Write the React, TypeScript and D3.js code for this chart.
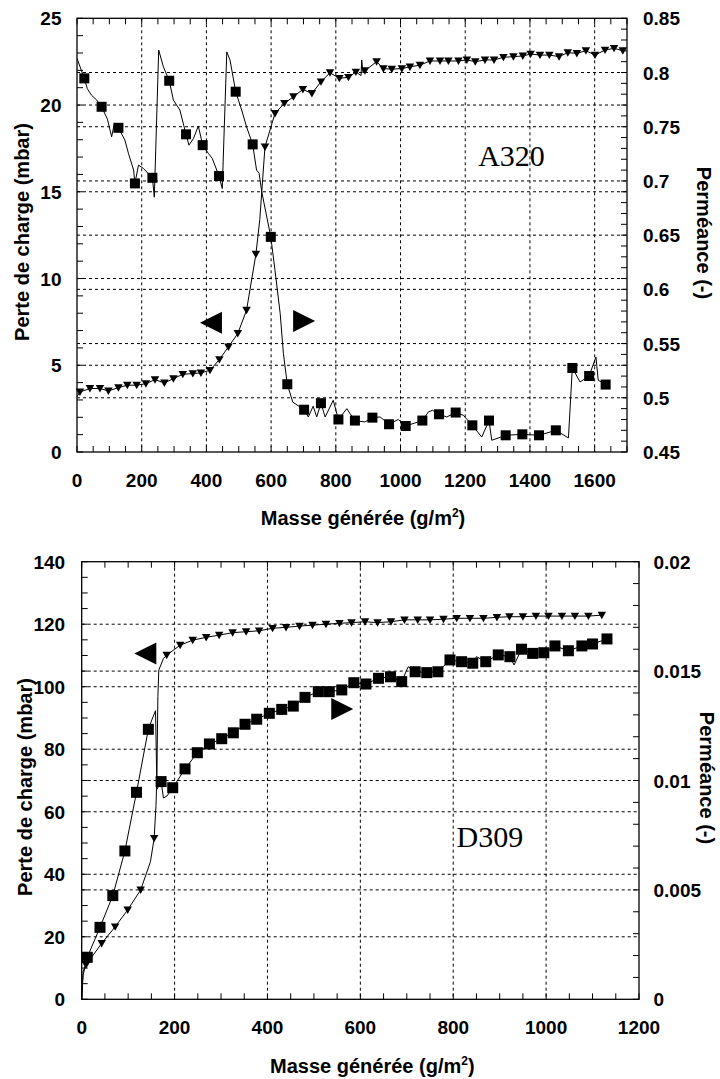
import React from "react";
import * as d3 from "d3";

type P = [number, number];

// ================= Panel 1 : A320 =================
const A320_X_TICKS = [0, 200, 400, 600, 800, 1000, 1200, 1400, 1600];
const A320_LEFT_TICKS = [0, 5, 10, 15, 20, 25];
const A320_RIGHT_TICKS = [0.45, 0.5, 0.55, 0.6, 0.65, 0.7, 0.75, 0.8, 0.85];

// Perte de charge (mbar) — triangles, left axis
const A320_PRESSURE_MARKERS: P[] = [
  [9, 3.46], [40, 3.66], [71, 3.66], [97, 3.52], [128, 3.71], [155.5, 3.85], [184.5, 3.85],
  [213, 3.94], [241, 4.17], [270, 3.98], [298, 4.23], [327, 4.48], [358, 4.52], [383, 4.56],
  [411, 4.71], [440, 5.33], [468, 6.06], [497, 6.83], [524, 8.17], [553, 11.4], [581, 17.59],
  [612, 19.52], [641, 20.1], [669, 20.48], [698, 20.9], [726, 20.67], [754, 21.34], [782, 21.86],
  [811, 21.54], [839, 21.6], [862, 21.9], [890, 21.98], [926, 22.5], [947, 22.1], [973, 22.07],
  [1004, 22.1], [1029, 22.2], [1060, 22.3], [1091, 22.54], [1122, 22.54], [1148, 22.54],
  [1179, 22.54], [1205, 22.6], [1231, 22.5], [1261, 22.6], [1289, 22.6], [1318, 22.75],
  [1349, 22.79], [1378, 22.83], [1402, 22.94], [1431, 22.88], [1460, 22.88], [1490, 22.79],
  [1517, 23.02], [1545, 22.98], [1573, 23.13], [1601, 22.88], [1632, 23.17], [1660, 23.27],
  [1687, 23.13],
];
const A320_PRESSURE_LINE: P[] = [
  [0, 3.2], [9, 3.46], [40, 3.66], [71, 3.66], [97, 3.52], [128, 3.71], [155.5, 3.85], [184.5, 3.85],
  [213, 3.94], [241, 4.17], [270, 3.98], [298, 4.23], [327, 4.48], [358, 4.52], [383, 4.56],
  [411, 4.71], [440, 5.33], [468, 6.06], [497, 6.83], [524, 8.17], [553, 11.4], [565, 13.4],
  [581, 17.59], [612, 19.52], [641, 20.1], [669, 20.48], [698, 20.9], [726, 20.67], [754, 21.34],
  [782, 21.86], [811, 21.54], [839, 21.6], [862, 21.9], [878, 21.7], [880, 22.6], [884, 21.85],
  [890, 21.98], [926, 22.5], [947, 22.1], [973, 22.07], [1004, 22.1], [1029, 22.2], [1060, 22.3],
  [1091, 22.54], [1122, 22.54], [1148, 22.54], [1179, 22.54], [1205, 22.6], [1231, 22.5],
  [1261, 22.6], [1289, 22.6], [1318, 22.75], [1349, 22.79], [1378, 22.83], [1402, 22.94],
  [1431, 22.88], [1460, 22.88], [1490, 22.79], [1517, 23.02], [1545, 22.98], [1573, 23.13],
  [1601, 22.88], [1632, 23.17], [1660, 23.27], [1687, 23.13],
];

// Perméance (-) — squares, right axis
const A320_PERMEANCE_MARKERS: P[] = [
  [22.6, 0.7946], [76, 0.7684], [128, 0.749], [179, 0.6977], [233, 0.7029], [285, 0.7924],
  [337, 0.743], [388.5, 0.733], [439, 0.7045], [490.5, 0.7823], [543, 0.7337], [599, 0.6484],
  [650, 0.5125], [702, 0.489], [754, 0.495], [808, 0.48], [859, 0.479], [913, 0.4817],
  [964.5, 0.4756], [1016, 0.474], [1067.5, 0.479], [1119, 0.4848], [1170.5, 0.4864],
  [1222, 0.4746], [1273.5, 0.479], [1325, 0.4654], [1376.5, 0.4663], [1428, 0.4654],
  [1480, 0.47], [1531, 0.5275], [1583, 0.5201], [1634, 0.5122],
];
const A320_PERMEANCE_LINE: P[] = [
  [0, 0.813], [22.6, 0.7946], [32, 0.785], [45, 0.779], [61, 0.7746], [76, 0.7684], [94, 0.757],
  [107, 0.7407], [115, 0.752], [128, 0.749], [148, 0.7377], [159, 0.7254], [175, 0.71],
  [179, 0.6977], [190, 0.7146], [205, 0.7116], [233, 0.7029], [239, 0.685], [252.5, 0.8207],
  [267, 0.8053], [285, 0.7924], [298, 0.7746], [318, 0.7654], [337, 0.743], [346, 0.733],
  [360, 0.7392], [375, 0.7506], [388.5, 0.733], [406, 0.7254], [418, 0.7208], [439, 0.7045],
  [449, 0.693], [463, 0.819], [473, 0.8115], [490.5, 0.7823], [509, 0.7654], [524, 0.75],
  [543, 0.7337], [555, 0.71], [563, 0.707], [571, 0.69], [599, 0.6484], [612, 0.6176],
  [628, 0.5777], [638, 0.5408], [650, 0.5125], [667, 0.496], [702, 0.489], [715, 0.4823],
  [730, 0.4922], [741, 0.4823], [754, 0.495], [767, 0.4823], [792, 0.4977], [808, 0.48],
  [834, 0.49], [844, 0.4854], [859, 0.479], [890, 0.4777], [913, 0.4817], [937, 0.4823],
  [964.5, 0.4756], [993, 0.48], [1016, 0.474], [1067.5, 0.479], [1086, 0.4869], [1099, 0.4885],
  [1119, 0.4848], [1143, 0.4823], [1170.5, 0.4864], [1194, 0.4839], [1222, 0.4746],
  [1251, 0.4638], [1273.5, 0.479], [1282, 0.4608], [1325, 0.4654], [1376.5, 0.4663],
  [1428, 0.4654], [1480, 0.47], [1519, 0.463], [1531, 0.5275], [1555, 0.5146], [1583, 0.5201],
  [1604, 0.5377], [1611, 0.5162], [1634, 0.5122],
];

// ================= Panel 2 : D309 =================
const D309_X_TICKS = [0, 200, 400, 600, 800, 1000, 1200];
const D309_LEFT_TICKS = [0, 20, 40, 60, 80, 100, 120, 140];
const D309_RIGHT_TICKS = [0, 0.005, 0.01, 0.015, 0.02];

const D309_PRESSURE_MARKERS: P[] = [
  [9.3, 11], [43, 17.9], [72, 23.2], [99, 28.6], [127, 35], [156, 51.5], [183, 110.1],
  [212, 113.3], [239, 114.9], [268, 115.8], [296, 116.5], [325, 117.3], [354, 117.6],
  [382, 117.9], [411, 118.7], [440, 119], [469, 119.4], [497, 119.7], [526, 120], [555, 120.3],
  [581, 120.5], [610, 120.8], [637, 120.5], [666, 120.8], [695, 121.4], [723.5, 121.4],
  [750, 121.4], [779, 121.6], [807.5, 121.9], [836, 121.9], [865, 121.9], [894, 122.2],
  [921, 122.4], [950, 122.4], [978, 122.6], [1005, 122.6], [1034, 122.6], [1062, 122.6],
  [1091, 122.6], [1120, 122.9],
];
const D309_PRESSURE_LINE: P[] = [
  [0, 0], [3, 9], [9.3, 11], [43, 17.9], [72, 23.2], [99, 28.6], [127, 35], [148, 44],
  [156, 51.5], [160, 62], [162, 72], [164, 96.8], [166, 105.3], [176, 109], [183, 110.1],
  [212, 113.3], [239, 114.9], [268, 115.8], [296, 116.5], [325, 117.3], [354, 117.6],
  [382, 117.9], [411, 118.7], [440, 119], [469, 119.4], [497, 119.7], [526, 120], [555, 120.3],
  [581, 120.5], [610, 120.8], [637, 120.5], [666, 120.8], [695, 121.4], [723.5, 121.4],
  [750, 121.4], [779, 121.6], [807.5, 121.9], [836, 121.9], [865, 121.9], [894, 122.2],
  [921, 122.4], [950, 122.4], [978, 122.6], [1005, 122.6], [1034, 122.6], [1062, 122.6],
  [1091, 122.6], [1120, 122.9],
];

const D309_PERMEANCE_MARKERS: P[] = [
  [12, 0.00192], [39.4, 0.00329], [67, 0.00474], [93, 0.00678], [118, 0.00946],
  [143.5, 0.01234], [171, 0.00995], [196, 0.00967], [222.5, 0.01053], [249, 0.01127],
  [275, 0.01167], [301.5, 0.01191], [326.5, 0.01218], [351.7, 0.01257], [376.8, 0.0128],
  [404, 0.01307], [430.7, 0.01325], [455.6, 0.0134], [480.8, 0.0138], [509.5, 0.01406],
  [533, 0.01406], [560, 0.01414], [586, 0.01447], [612, 0.01441], [639, 0.01467],
  [665, 0.01474], [689, 0.01452], [718, 0.01497], [743, 0.01493], [767, 0.01497],
  [793, 0.01551], [818, 0.01543], [842, 0.01536], [870, 0.01543], [897, 0.01574],
  [922, 0.01566], [947, 0.016], [971, 0.01581], [995, 0.01584], [1019, 0.01615],
  [1048, 0.01593], [1077, 0.01615], [1100, 0.01624], [1131, 0.01647],
];
const D309_PERMEANCE_LINE: P[] = [
  [0, 0], [3, 0.0011], [12, 0.00192], [39.4, 0.00329], [67, 0.00474], [93, 0.00678],
  [118, 0.00946], [143.5, 0.01234], [151, 0.01277], [159, 0.01319], [162, 0.0096],
  [171, 0.00995], [176, 0.0092], [184, 0.0093], [196, 0.00967], [222.5, 0.01053],
  [249, 0.01127], [275, 0.01167], [301.5, 0.01191], [326.5, 0.01218], [351.7, 0.01257],
  [376.8, 0.0128], [404, 0.01307], [430.7, 0.01325], [455.6, 0.0134], [480.8, 0.0138],
  [509.5, 0.01406], [533, 0.01406], [560, 0.01414], [586, 0.01447], [612, 0.01441],
  [639, 0.01467], [665, 0.01474], [689, 0.01452], [703, 0.0152], [718, 0.01497],
  [743, 0.01493], [767, 0.01497], [793, 0.01551], [818, 0.01543], [842, 0.01536],
  [850, 0.01566], [870, 0.01543], [897, 0.01574], [922, 0.01566], [931, 0.01528],
  [947, 0.016], [971, 0.01581], [995, 0.01584], [1019, 0.01615], [1048, 0.01593],
  [1077, 0.01615], [1100, 0.01624], [1131, 0.01647],
];

// annotation anchors (data coordinates, left axis)
const A320_ARROW_LEFT: P = [414, 7.45];
const A320_ARROW_RIGHT: P = [702, 7.55];
const A320_LABEL: P = [1240, 16.5];
const D309_ARROW_LEFT: P = [137, 110.6];
const D309_ARROW_RIGHT: P = [561, 92.9];
const D309_LABEL: P = [807, 48.8];

const SANS = "'Liberation Sans', Arial, Helvetica, sans-serif";
const SERIF = "'Liberation Serif', 'Times New Roman', serif";

interface PanelCfg {
  left: number; right: number; top: number; bottom: number;
  xDomain: [number, number]; xTicks: number[]; xMinor: number;
  yLDomain: [number, number]; yLTicks: number[]; yLMinor: number;
  yRDomain: [number, number]; yRTicks: number[]; yRMinor: number;
  pLine: P[]; pMarkers: P[]; kLine: P[]; kMarkers: P[];
  arrowL: P; arrowR: P; label: P; labelText: string;
  sq: number; tri: number;
  leftTitleX: number; leftTitleY: number; rightTitleX: number; rightTitleY: number;
  xTitleY: number; xTitleDx: number; rightLabelDx: number; leftLabelDx: number;
}

function minorRange(d: [number, number], step: number) {
  const n = Math.round((d[1] - d[0]) / step);
  return d3.range(0, n + 1).map((i) => d[0] + i * step);
}

function Panel({ c }: { c: PanelCfg }) {
  const x = d3.scaleLinear().domain(c.xDomain).range([c.left, c.right]);
  const yL = d3.scaleLinear().domain(c.yLDomain).range([c.bottom, c.top]);
  const yR = d3.scaleLinear().domain(c.yRDomain).range([c.bottom, c.top]);
  const lineL = d3.line<P>().x((d) => x(d[0])).y((d) => yL(d[1]));
  const lineR = d3.line<P>().x((d) => x(d[0])).y((d) => yR(d[1]));
  const TL = 6;
  const dash = "3,3";
  const innerX = c.xTicks.filter((t) => t > c.xDomain[0] && t < c.xDomain[1]);
  const innerL = c.yLTicks.filter((t) => t > c.yLDomain[0] && t < c.yLDomain[1]);
  const innerR = c.yRTicks.filter((t) => t > c.yRDomain[0] && t < c.yRDomain[1]);
  const h = c.sq / 2;
  const tw = c.tri / 2;
  const aL = [x(c.arrowL[0]), yL(c.arrowL[1])];
  const aR = [x(c.arrowR[0]), yL(c.arrowR[1])];
  const A = 11;
  return (
    <g>
      {/* grid */}
      <g stroke="#000" strokeWidth={1} strokeDasharray={dash} fill="none">
        {innerX.map((t) => (
          <line key={"gx" + t} x1={x(t)} x2={x(t)} y1={c.top} y2={c.bottom} />
        ))}
        {innerL.map((t) => (
          <line key={"gl" + t} x1={c.left} x2={c.right} y1={yL(t)} y2={yL(t)} />
        ))}
        {innerR.map((t) => (
          <line key={"gr" + t} x1={c.left} x2={c.right} y1={yR(t)} y2={yR(t)} />
        ))}
      </g>
      {/* ticks */}
      <g stroke="#000" strokeWidth={1}>
        {minorRange(c.xDomain, c.xMinor).map((t) => (
          <g key={"tx" + t}>
            <line x1={x(t)} x2={x(t)} y1={c.bottom} y2={c.bottom - TL} />
            <line x1={x(t)} x2={x(t)} y1={c.top} y2={c.top + TL} />
          </g>
        ))}
        {minorRange(c.yLDomain, c.yLMinor).map((t) => (
          <line key={"tl" + t} x1={c.left} x2={c.left + TL} y1={yL(t)} y2={yL(t)} />
        ))}
        {minorRange(c.yRDomain, c.yRMinor).map((t) => (
          <line key={"tr" + t} x1={c.right} x2={c.right - TL} y1={yR(t)} y2={yR(t)} />
        ))}
      </g>
      {/* frame */}
      <rect x={c.left} y={c.top} width={c.right - c.left} height={c.bottom - c.top}
        fill="none" stroke="#000" strokeWidth={1.3} />
      {/* tick labels */}
      <g fontFamily={SANS} fontWeight="bold" fontSize={19} fill="#000">
        {c.xTicks.map((t) => (
          <text key={"lx" + t} x={x(t)} y={c.bottom + 35} textAnchor="middle">{String(t)}</text>
        ))}
        {c.yLTicks.map((t) => (
          <text key={"ll" + t} x={c.left - c.leftLabelDx} y={yL(t) + 7} textAnchor="end">{String(t)}</text>
        ))}
        {c.yRTicks.map((t) => (
          <text key={"lr" + t} x={c.right + c.rightLabelDx} y={yR(t) + 7} textAnchor="start">{String(t)}</text>
        ))}
      </g>
      {/* titles */}
      <g fontFamily={SANS} fontWeight="bold" fontSize={20} fill="#000">
        <text transform={`translate(${c.leftTitleX},${c.leftTitleY}) rotate(-90)`} textAnchor="middle">
          Perte de charge (mbar)
        </text>
        <text transform={`translate(${c.rightTitleX},${c.rightTitleY}) rotate(90)`} textAnchor="middle">
          Perméance (-)
        </text>
        <text x={(c.left + c.right) / 2 + c.xTitleDx} y={c.xTitleY} textAnchor="middle">
          Masse générée (g/m<tspan dy={-8} fontSize={12}>2</tspan><tspan dy={8}>)</tspan>
        </text>
      </g>
      {/* series lines */}
      <path d={lineL(c.pLine) || ""} fill="none" stroke="#000" strokeWidth={1} />
      <path d={lineR(c.kLine) || ""} fill="none" stroke="#000" strokeWidth={1} />
      {/* markers */}
      <g fill="#000">
        {c.pMarkers.map((d, i) => {
          const px = x(d[0]);
          const py = yL(d[1]);
          return (
            <path key={"pm" + i}
              d={`M${px - tw},${py - tw * 0.8} L${px + tw},${py - tw * 0.8} L${px},${py + tw * 0.95} Z`} />
          );
        })}
        {c.kMarkers.map((d, i) => (
          <rect key={"km" + i} x={x(d[0]) - h} y={yR(d[1]) - h} width={c.sq} height={c.sq} />
        ))}
      </g>
      {/* arrows */}
      <path d={`M${aL[0] - A},${aL[1]} L${aL[0] + A},${aL[1] - A} L${aL[0] + A},${aL[1] + A} Z`} fill="#000" />
      <path d={`M${aR[0] + A},${aR[1]} L${aR[0] - A},${aR[1] - A} L${aR[0] - A},${aR[1] + A} Z`} fill="#000" />
      <text x={x(c.label[0])} y={yL(c.label[1])} fontFamily={SERIF} fontSize={30} fill="#000">
        {c.labelText}
      </text>
    </g>
  );
}

const TOP: PanelCfg = {
  left: 77, right: 627, top: 18.3, bottom: 452,
  xDomain: [0, 1700], xTicks: A320_X_TICKS, xMinor: 50,
  yLDomain: [0, 25], yLTicks: A320_LEFT_TICKS, yLMinor: 1,
  yRDomain: [0.45, 0.85], yRTicks: A320_RIGHT_TICKS, yRMinor: 0.01,
  pLine: A320_PRESSURE_LINE, pMarkers: A320_PRESSURE_MARKERS,
  kLine: A320_PERMEANCE_LINE, kMarkers: A320_PERMEANCE_MARKERS,
  arrowL: A320_ARROW_LEFT, arrowR: A320_ARROW_RIGHT, label: A320_LABEL, labelText: "A320",
  sq: 10, tri: 8.5,
  leftTitleX: 28.5, leftTitleY: 232, rightTitleX: 697, rightTitleY: 233,
  xTitleY: 525, xTitleDx: 11, rightLabelDx: 16, leftLabelDx: 15.5,
};

const BOTTOM: PanelCfg = {
  left: 81.7, right: 639, top: 561.7, bottom: 999.3,
  xDomain: [0, 1200], xTicks: D309_X_TICKS, xMinor: 50,
  yLDomain: [0, 140], yLTicks: D309_LEFT_TICKS, yLMinor: 5,
  yRDomain: [0, 0.02], yRTicks: D309_RIGHT_TICKS, yRMinor: 0.001,
  pLine: D309_PRESSURE_LINE, pMarkers: D309_PRESSURE_MARKERS,
  kLine: D309_PERMEANCE_LINE, kMarkers: D309_PERMEANCE_MARKERS,
  arrowL: D309_ARROW_LEFT, arrowR: D309_ARROW_RIGHT, label: D309_LABEL, labelText: "D309",
  sq: 11, tri: 8.5,
  leftTitleX: 31.5, leftTitleY: 787, rightTitleX: 700, rightTitleY: 778,
  xTitleY: 1073, xTitleDx: 12, rightLabelDx: 14.5, leftLabelDx: 16.5,
};

export default function App() {
  return (
    <svg width={720} height={1079} viewBox="0 0 720 1079"
      style={{ position: "absolute", left: 0, top: 0, background: "#fff" }}>
      <rect x={0} y={0} width={720} height={1079} fill="#fff" />
      <Panel c={TOP} />
      <Panel c={BOTTOM} />
    </svg>
  );
}
